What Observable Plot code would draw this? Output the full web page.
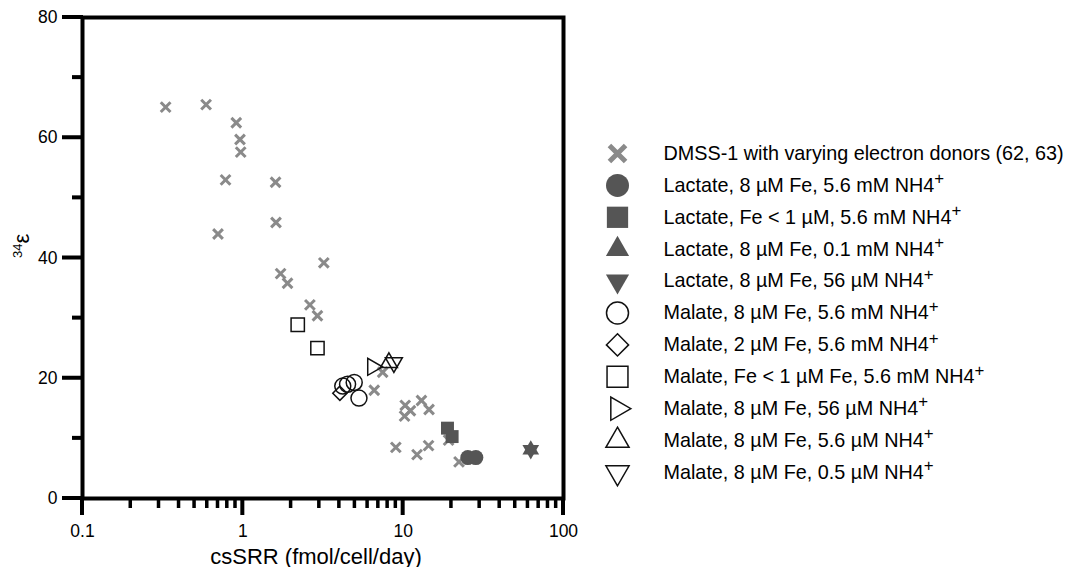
<!DOCTYPE html>
<html><head><meta charset="utf-8">
<script src="https://cdn.jsdelivr.net/npm/d3@7"></script>
<script src="https://cdn.jsdelivr.net/npm/@observablehq/plot@0.6"></script>
<style>
body{margin:0;background:#fff;font-family:"Liberation Sans",Arial,sans-serif;}
#wrap{position:relative;width:1072px;height:567px;overflow:hidden;}
#chart{position:absolute;left:0;top:0;}
#legend{position:absolute;left:590px;top:0;}
</style></head><body><div id="wrap"><div id="chart"></div><div id="legend"></div></div>
<script>
// ---- data ----
const seriesLabels = [
  "DMSS-1 with varying electron donors (62, 63)",
  "Lactate, 8 µM Fe, 5.6 mM NH4+",
  "Lactate, Fe < 1 µM, 5.6 mM NH4+",
  "Lactate, 8 µM Fe, 0.1 mM NH4+",
  "Lactate, 8 µM Fe, 56 µM NH4+",
  "Malate, 8 µM Fe, 5.6 mM NH4+",
  "Malate, 2 µM Fe, 5.6 mM NH4+",
  "Malate, Fe < 1 µM Fe, 5.6 mM NH4+",
  "Malate, 8 µM Fe, 56 µM NH4+",
  "Malate, 8 µM Fe, 5.6 µM NH4+",
  "Malate, 8 µM Fe, 0.5 µM NH4+"
];
const dmssX = [0.33, 0.59, 0.91, 0.96, 0.97, 0.78, 0.70, 1.60, 1.61, 1.72, 1.90, 3.2, 2.62, 2.92, 7.45, 6.6, 10.3, 10.2, 11.1, 13.0, 14.5, 9.0, 12.2, 14.4, 22.3, 19.2];
const dmssY = [65.1, 65.5, 62.5, 59.7, 57.6, 53.0, 44.0, 52.6, 45.9, 37.4, 35.8, 39.2, 32.2, 30.4, 21.0, 18.0, 15.5, 13.7, 14.6, 16.3, 14.8, 8.5, 7.3, 8.8, 6.1, 9.7];
const lacCircleX = [25.3, 28.4];        const lacCircleY = [6.8, 6.8];
const lacSquareX = [18.9, 20.2];        const lacSquareY = [11.7, 10.3];
const lacTriUpX = [62.5];               const lacTriUpY = [8.1];
const lacTriDownX = [62.5];             const lacTriDownY = [8.1];
const malCircleX = [4.2, 4.5, 4.95, 5.3]; const malCircleY = [18.7, 19.0, 19.3, 16.7];
const malDiamondX = [4.03];             const malDiamondY = [17.5];
const malSquareX = [2.2, 2.92];         const malSquareY = [28.9, 25.0];
const malTriRightX = [6.45];            const malTriRightY = [21.9];
const malTriUpX = [8.15];               const malTriUpY = [22.6];
const malTriDownX = [8.75];             const malTriDownY = [22.6];

const seriesX = [dmssX, lacCircleX, lacSquareX, lacTriUpX, lacTriDownX, malCircleX, malDiamondX, malSquareX, malTriRightX, malTriUpX, malTriDownX];
const seriesY = [dmssY, lacCircleY, lacSquareY, lacTriUpY, lacTriDownY, malCircleY, malDiamondY, malSquareY, malTriRightY, malTriUpY, malTriDownY];

const yTicksMajor = [0, 20, 40, 60, 80];
const yTicksMinor = [10, 30, 50, 70];
const xTicksMajor = [0.1, 1, 10, 100];
const xTickLabels = ["0.1", "1", "10", "100"];
const xTicksMinor = [0.2,0.3,0.4,0.5,0.6,0.7,0.8,0.9, 2,3,4,5,6,7,8,9, 20,30,40,50,60,70,80,90];
const xLabel = "csSRR (fmol/cell/day)";
const yLabel = "34ε";

// ---- styles ----
const GRAY = "#8a8a8a", DARK = "#555555", INK = "#111111";
const styles = [
  {symbol:"times",    fill:"none", stroke:GRAY, sw:3,   r:4.5, lr:7.4, lsw:5},
  {symbol:"circle",   fill:DARK,   stroke:"none", sw:0, r:7.5, lr:11.5},
  {symbol:"square",   fill:DARK,   stroke:"none", sw:0, r:7.3, lr:12},
  {symbol:"triangle", fill:DARK,   stroke:"none", sw:0, r:6.2, lr:8.6, rotate:0},
  {symbol:"triangle", fill:DARK,   stroke:"none", sw:0, r:6.2, lr:8.6, rotate:180},
  {symbol:"circle",   fill:"none", stroke:INK, sw:1.5, r:8,   lr:11},
  {symbol:"diamond2", fill:"none", stroke:INK, sw:1.5, r:6.4, lr:10},
  {symbol:"square",   fill:"none", stroke:INK, sw:1.5, r:7.5, lr:11.8},
  {symbol:"triangle", fill:"none", stroke:INK, sw:1.5, r:6.3, lr:8.6, rotate:90},
  {symbol:"triangle", fill:"none", stroke:INK, sw:1.5, r:6.3, lr:8.6, rotate:0},
  {symbol:"triangle", fill:"none", stroke:INK, sw:1.5, r:6.3, lr:8.6, rotate:180}
];

// ---- main chart ----
const dotMarks = seriesX.map((xs, i) => {
  const s = styles[i];
  const data = xs.map((x, j) => ({x, y: seriesY[i][j]}));
  return Plot.dot(data, {x:"x", y:"y", symbol:s.symbol, r:s.r, fill:s.fill, stroke:s.stroke,
    strokeWidth:s.sw, rotate:s.rotate || 0});
});

// outward tick marks drawn as filled thin rects anchored on the axis lines
const yTickRect = (ticks, len) => Plot.rect(ticks, {x1: 0.1, x2: 0.1, y1: d => d, y2: d => d,
  insetLeft: -len, insetRight: -1, insetTop: -2, insetBottom: -2, fill: "#000"});
const xTickRect = (ticks, len, half) => Plot.rect(ticks, {x1: d => d, x2: d => d, y1: 0, y2: 0,
  insetLeft: -half, insetRight: -half, insetTop: -1, insetBottom: -len, fill: "#000"});

const chart = Plot.plot({
  width: 590, height: 567,
  marginLeft: 82, marginRight: 27, marginTop: 17, marginBottom: 69,
  style: {fontFamily: '"Liberation Sans", Arial, sans-serif', fontSize: "17.5px", color: "#000", background: "#fff"},
  x: {type: "log", domain: [0.1, 100]},
  y: {domain: [0, 80]},
  marks: [
    ...dotMarks,
    yTickRect(yTicksMajor, 20),
    yTickRect(yTicksMinor, 10),
    xTickRect(xTicksMajor, 17, 2),
    xTickRect(xTicksMinor, 10, 1.75),
    Plot.axisY(yTicksMajor, {tickSize: 0, tickPadding: 25, fontSize: 17.5, label: null}),
    Plot.axisX(xTicksMajor, {tickSize: 0, tickPadding: 26, fontSize: 17.5, label: null,
      tickFormat: (d) => xTickLabels[xTicksMajor.indexOf(d)]}),
    Plot.frame({stroke: "#000", strokeWidth: 4}),
    Plot.text([xLabel], {frameAnchor: "bottom", dx: -7, dy: 65, lineAnchor: "bottom", fontSize: 22}),
    Plot.text([yLabel], {frameAnchor: "left", dx: -61, rotate: -90, fontSize: 22})
  ]
});
document.getElementById("chart").appendChild(chart);

// superscript on y label
chart.querySelectorAll("text").forEach(t => {
  if (t.textContent === yLabel) {
    t.innerHTML = '<tspan font-size="13" dy="-7">34</tspan><tspan dy="7">ε</tspan>';
  }
});

// ---- legend ----
const legendIdx = seriesLabels.map((_, i) => i);
const legendDots = legendIdx.map(i => {
  const s = styles[i];
  return Plot.dot([i], {x: () => 0, y: d => d, symbol: s.symbol, r: s.lr, fill: s.fill, stroke: s.stroke,
    strokeWidth: s.lsw || s.sw, rotate: s.rotate || 0});
});
const legend = Plot.plot({
  width: 482, height: 567, margin: 0,
  style: {fontFamily: '"Liberation Sans", Arial, sans-serif', fontSize: "20px", color: "#000", background: "transparent"},
  x: {domain: [0, 1], range: [27, 73], axis: null},
  y: {domain: [0, 10], range: [153, 472], axis: null},
  marks: [
    ...legendDots,
    Plot.text(legendIdx, {x: () => 1, y: d => d, text: d => seriesLabels[d], textAnchor: "start", fontSize: 19.8, fill: "#000"})
  ]
});
document.getElementById("legend").appendChild(legend);
legend.querySelectorAll("text").forEach(t => {
  const s = t.textContent;
  if (s.endsWith("+")) {
    const base = s.slice(0, -1).replace(/&/g,"&amp;").replace(/</g,"&lt;");
    t.innerHTML = base + '<tspan dy="-0.45em" font-size="0.85em">+</tspan>';
  }
});
</script></body></html>
